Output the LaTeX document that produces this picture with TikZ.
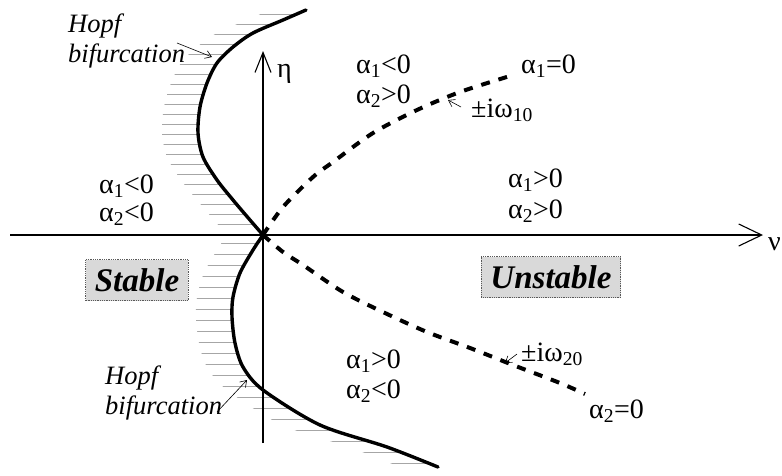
\documentclass[tikz,border=0pt]{standalone}
\usepackage{fontspec}
\setmainfont{Liberation Serif}
\usetikzlibrary{arrows.meta}
\begin{document}
\begin{tikzpicture}[x=1pt,y=-1pt,
  lab/.style={font=\fontsize{28}{30}\selectfont, inner sep=0pt, anchor=base west},
  hopf/.style={font=\fontsize{26.5}{30}\selectfont\itshape, inner sep=0pt, align=left, anchor=north west},
  regbox/.style={font=\fontsize{33}{34}\selectfont\bfseries\itshape, fill=gray!30, draw=gray!70!black, densely dotted, line width=0.8pt, inner xsep=9pt, inner ysep=2pt, minimum height=41pt},
  axisline/.style={line width=1.1pt},
  bound/.style={line width=3.4pt, line cap=round},
  root/.style={line width=4pt, dash pattern=on 9pt off 9pt},
  hatchline/.style={gray!70, line width=0.9pt},
  pointer/.style={line width=0.6pt, -{Straight Barb[length=6pt,width=8pt,line width=0.6pt]}}
]
\useasboundingbox (0,0) rectangle (782,475);

% hatching left of the stability boundary
\begin{scope}
\clip plot[smooth] coordinates {(306,10) (283,20) (253,33) (233,47) (217,63) (207,83) (200,107) (198,133) (203,157) (217,180) (233,200) (250,220) (263,235)}
  -- plot[smooth] coordinates {(227,235) (214,220) (197,200) (181,180) (167,157) (162,133) (164,107) (171,83) (181,63) (197,47) (217,33) (247,20) (270,10)} -- cycle;
\foreach \y in {14,24,...,234} \draw[hatchline] (0,\y) -- (782,\y);
\end{scope}
\begin{scope}
\clip plot[smooth] coordinates {(263,235) (253,250) (240,273) (233,297) (232,317) (235,343) (243,367) (263,390) (320,425) (387,447) (438,467)}
  -- plot[smooth] coordinates {(400,467) (349,447) (282,425) (227,390) (207,367) (199,343) (196,317) (197,297) (204,273) (217,250) (227,235)} -- cycle;
\foreach \y in {243,254,...,466} \draw[hatchline] (0,\y) -- (782,\y);
\end{scope}

% axes
\coordinate (O) at (263,235);
\coordinate (xs) at (10,235);
\coordinate (xe) at (763,235);
\coordinate (ys) at (263,443);
\coordinate (ye) at (263,51);
\draw[axisline, -{Straight Barb[length=23pt,width=22pt,line width=1.1pt]}] (xs) -- (xe);
\draw[axisline, -{Straight Barb[length=20pt,width=16pt,line width=1.1pt]}] (ys) -- (ye);
\node[lab] (nu) at (768,250) {ν};
\node[lab] (eta) at (277,77) {η};

% stability boundary
\draw[bound] plot[smooth] coordinates {(306,10) (283,20) (253,33) (233,47) (217,63) (207,83) (200,107) (198,133) (203,157) (217,180) (233,200) (250,220) (263,235)};
\draw[bound] plot[smooth] coordinates {(263,235) (253,250) (240,273) (233,297) (232,317) (235,343) (243,367) (263,390) (320,425) (387,447) (438,467)};

% root curves
\draw[root] plot[smooth] coordinates {(263,235) (283,207) (313,177) (333,162) (373,133) (417,110) (460,92) (510,76)};
\draw[root] plot[smooth] coordinates {(263,235) (283,252) (303,265) (343,292) (385,313) (427,332) (470,348) (513,365) (560,383) (585,394)};

% region labels
\node[lab] (a1ul) at (99,193) {α\textsubscript{1}<0};
\node[lab] (a2ul) at (99,221) {α\textsubscript{2}<0};
\node[lab] (a1um) at (356,73) {α\textsubscript{1}<0};
\node[lab] (a2um) at (356,103) {α\textsubscript{2}>0};
\node[lab] (a1z) at (521,73) {α\textsubscript{1}=0};
\node[lab] (w10) at (471,117) {±iω\textsubscript{10}};
\node[lab] (a1r) at (508,187) {α\textsubscript{1}>0};
\node[lab] (a2r) at (508,218) {α\textsubscript{2}>0};
\node[lab] (a1lo) at (346,368) {α\textsubscript{1}>0};
\node[lab] (a2lo) at (346,398) {α\textsubscript{2}<0};
\node[lab] (a2z) at (589,418) {α\textsubscript{2}=0};
\node[lab] (w20) at (521,361) {±iω\textsubscript{20}};

\node[regbox] (stable) at (137,280) {Stable};
\node[regbox] (unstable) at (551,277) {Unstable};

\node[hopf] (hopfu) at (68,14) {Hopf\\bifurcation};
\node[hopf] (hopfl) at (105,366) {Hopf\\bifurcation};

% pointers
\coordinate (p1s) at (177,43);  \coordinate (p1e) at (212,57);
\coordinate (p2s) at (217,412); \coordinate (p2e) at (247,380);
\coordinate (p3s) at (461,107); \coordinate (p3e) at (448,100);
\coordinate (p4s) at (517,354); \coordinate (p4e) at (505,363);
\draw[pointer] (p1s) -- (p1e);
\draw[pointer] (p2s) -- (p2e);
\draw[pointer] (p3s) -- (p3e);
\draw[pointer] (p4s) -- (p4e);
\end{tikzpicture}
\end{document}
